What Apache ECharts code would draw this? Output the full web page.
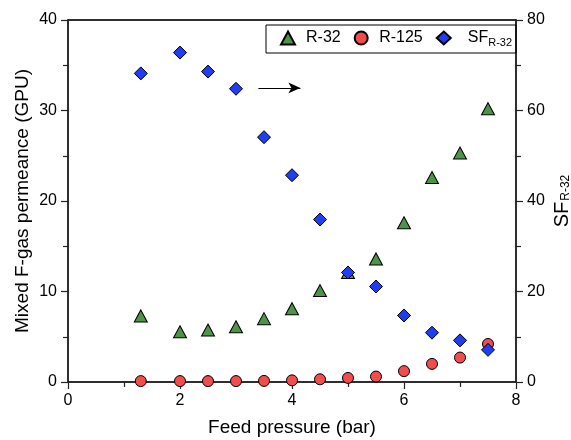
<!DOCTYPE html>
<html>
<head>
<meta charset="utf-8">
<script src="https://cdn.jsdelivr.net/npm/echarts@6/dist/echarts.min.js"></script>
<style>
  html, body { margin: 0; padding: 0; background: #fff; }
  #chart { width: 571px; height: 440px; }
</style>
</head>
<body>
<div id="chart"></div>
<script>
// feed pressure (bar)
const pressure = [1.3, 2, 2.5, 3, 3.5, 4, 4.5, 5, 5.5, 6, 6.5, 7, 7.5];
// mixed gas permeance (GPU)
const r32 = [7.3, 5.55, 5.75, 6.1, 7.0, 8.1, 10.1, 12.1, 13.6, 17.6, 22.6, 25.3, 30.2];
const r125 = [0.1, 0.1, 0.1, 0.1, 0.12, 0.18, 0.3, 0.45, 0.6, 1.2, 2.0, 2.7, 4.2];
// separation factor R-32
const sf = [68.2, 72.8, 68.6, 64.8, 54.1, 45.7, 35.9, 24.2, 21.1, 14.7, 10.9, 9.2, 7.1];

const FONT = '"Liberation Sans", Arial, sans-serif';
const axisCol = '#222';

const pairs = arr => pressure.map((p, i) => [p, arr[i]]);

const chart = echarts.init(document.getElementById('chart'));

const baseAxis = {
  axisLine: { show: true, lineStyle: { color: axisCol, width: 1.5 } },
  axisTick: { show: true, inside: false, length: 7, lineStyle: { color: axisCol, width: 1.2 } },
  minorTick: { show: true, splitNumber: 2, length: 5, lineStyle: { color: axisCol, width: 1.2 } },
  splitLine: { show: false },
  axisLabel: { color: '#000', fontFamily: FONT, fontSize: 16, margin: 11 },
  nameMoveOverlap: false,
  nameTextStyle: { color: '#000', fontFamily: FONT, fontSize: 19 }
};

chart.setOption({
  animation: false,
  grid: {
    left: 68, right: 55, top: 20, bottom: 58,
    outerBoundsMode: 'none', containLabel: false,
    show: true, borderColor: axisCol, borderWidth: 1.5, backgroundColor: 'transparent'
  },
  legend: {
    left: 266, top: 25,
    padding: [5, 4, 5, 14],
    borderColor: '#000', borderWidth: 1,
    itemGap: 13, itemWidth: 14, itemHeight: 13,
    textStyle: {
      color: '#000', fontFamily: FONT, fontSize: 16, padding: [0, 0, 0, 6],
      rich: {
        a: { fontFamily: FONT, fontSize: 16, color: '#000', padding: [0, 0, 0, 6] },
        b: { fontFamily: FONT, fontSize: 11, color: '#000', padding: [9, 0, 0, 0] }
      }
    },
    formatter: name => name === 'SF' ? '{a|SF}{b|R-32}' : name,
    data: [
      { name: 'R-32', icon: 'triangle' },
      { name: 'R-125', icon: 'circle' },
      { name: 'SF', icon: 'diamond' }
    ]
  },
  xAxis: [
    Object.assign({}, baseAxis, {
      type: 'value', min: 0, max: 8, interval: 2,
      name: 'Feed pressure (bar)', nameLocation: 'middle', nameGap: 36
    }),
    {
      type: 'value', position: 'top', min: 0, max: 8,
      axisLine: { show: true, onZero: false, lineStyle: { color: axisCol, width: 1.5 } },
      axisTick: { show: false }, axisLabel: { show: false }, splitLine: { show: false }
    }
  ],
  yAxis: [
    Object.assign({}, baseAxis, {
      type: 'value', min: 0, max: 40, interval: 10,
      name: 'Mixed F-gas permeance (GPU)', nameLocation: 'middle', nameGap: 36, nameRotate: 90
    }),
    Object.assign({}, baseAxis, {
      type: 'value', min: 0, max: 80, interval: 20, position: 'right',
      axisLine: { show: true, onZero: false, lineStyle: { color: axisCol, width: 1.5 } },
      name: '{a|SF}{b|R-32}', nameLocation: 'middle', nameGap: 36, nameRotate: 90,
      nameTextStyle: {
        color: '#000', fontFamily: FONT, fontSize: 20,
        rich: {
          a: { fontFamily: FONT, fontSize: 20, color: '#000' },
          b: { fontFamily: FONT, fontSize: 12, color: '#000', padding: [7, 0, 0, 1] }
        }
      }
    })
  ],
  series: [
    {
      name: 'R-32', type: 'scatter', symbol: 'triangle', symbolSize: [13, 12],
      itemStyle: { color: '#4f9249', borderColor: '#000', borderWidth: 1, opacity: 1 },
      data: pairs(r32),
      markLine: {
        silent: true, symbol: ['none', 'arrow'], symbolSize: [8, 12],
        label: { show: false },
        lineStyle: { color: '#000', width: 1.2, type: 'solid' },
        data: [[{ coord: [3.4, 32.5] }, { coord: [4.15, 32.5] }]]
      }
    },
    {
      name: 'R-125', type: 'scatter', symbol: 'circle', symbolSize: 11,
      itemStyle: { color: '#f24c4c', borderColor: '#000', borderWidth: 1, opacity: 1 },
      data: pairs(r125)
    },
    {
      name: 'SF', type: 'scatter', symbol: 'diamond', symbolSize: [13, 13], yAxisIndex: 1,
      itemStyle: { color: '#1f3ef2', borderColor: '#000', borderWidth: 1, opacity: 1 },
      data: pairs(sf)
    }
  ]
});
</script>
</body>
</html>
